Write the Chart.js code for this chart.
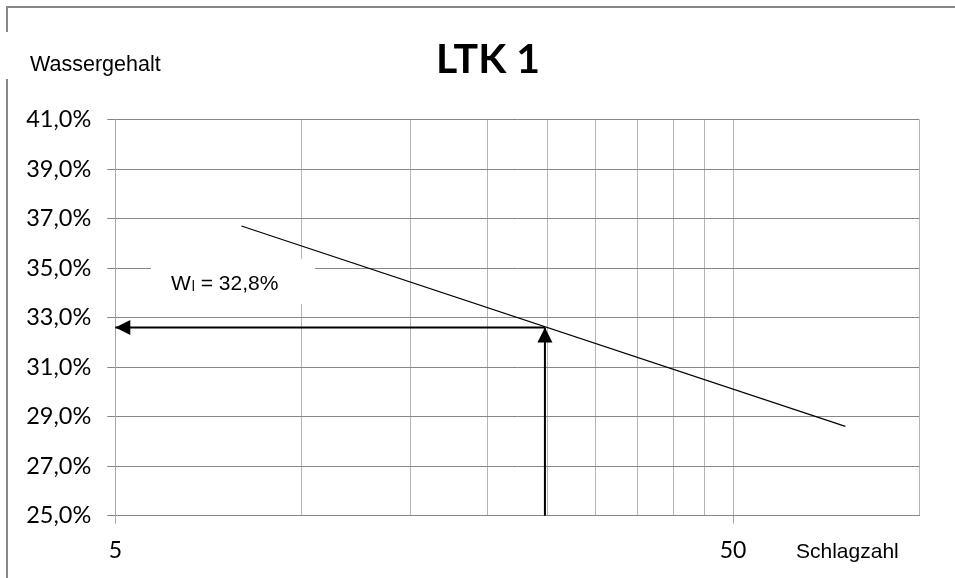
<!DOCTYPE html>
<html>
<head>
<meta charset="utf-8">
<script src="https://cdn.jsdelivr.net/npm/chart.js@4/dist/chart.umd.min.js"></script>
<style>
  html, body { margin: 0; padding: 0; background: #fff; }
  #wrap { width: 955px; height: 578px; position: relative; }
</style>
</head>
<body>
<div id="wrap"><canvas id="c" width="955" height="578"></canvas></div>
<script>
// ---- data ----
const chartTitle = 'LTK 1';
const yAxisName = 'Wassergehalt';
const xAxisName = 'Schlagzahl';
const trendX = [8, 76];              // Schlagzahl
const trendY = [36.70, 28.61];       // Wassergehalt %
const arrowHX = [24.8, 5];           // horizontal arrow: from reading point to y-axis
const arrowHY = [32.6, 32.6];
const arrowVX = [24.8, 24.8];        // vertical arrow: from x-axis up to the line
const arrowVY = [25, 32.6];
const xTickValues = [5, 10, 15, 20, 25, 30, 35, 40, 45, 50, 100];
const xLabelValues = [5, 50];
const yMin = 25, yMax = 41, yStep = 2;
const wlLabel = ['W', 'l', ' = 32,8%'];

const toXY = (xs, ys) => xs.map((x, i) => ({ x: x, y: ys[i] }));

const framePlugin = {
  id: 'frame',
  beforeDraw(chart) {
    const ctx = chart.ctx;
    ctx.save();
    ctx.fillStyle = '#fff';
    ctx.fillRect(0, 0, chart.width, chart.height);
    ctx.strokeStyle = '#878787';
    ctx.lineWidth = 2;
    ctx.beginPath();
    ctx.moveTo(7, 578); ctx.lineTo(7, 79);
    ctx.moveTo(7, 32); ctx.lineTo(7, 7); ctx.lineTo(955, 7);
    ctx.stroke();
    ctx.restore();
  },
  beforeDatasetsDraw(chart) {
    // white label box hiding gridlines behind the W_l annotation
    const ctx = chart.ctx;
    ctx.save();
    ctx.fillStyle = '#fff';
    ctx.fillRect(151, 259, 164, 45);
    ctx.restore();
  },
  afterDatasetsDraw(chart) {
    const ctx = chart.ctx;
    const xs = chart.scales.x, ys = chart.scales.y;
    const heads = [[arrowHX, arrowHY], [arrowVX, arrowVY]];
    ctx.save();
    ctx.fillStyle = '#000';
    heads.forEach(([ax, ay]) => {
      const n = ax.length;
      const tx = xs.getPixelForValue(ax[n - 1]), ty = ys.getPixelForValue(ay[n - 1]);
      const px = xs.getPixelForValue(ax[n - 2]), py = ys.getPixelForValue(ay[n - 2]);
      const d = Math.hypot(tx - px, ty - py);
      const ux = (tx - px) / d, uy = (ty - py) / d;
      const L = 15, W = 7.5;
      const bx = tx - ux * L, by = ty - uy * L;
      ctx.beginPath();
      ctx.moveTo(tx, ty);
      ctx.lineTo(bx - uy * W, by + ux * W);
      ctx.lineTo(bx + uy * W, by - ux * W);
      ctx.closePath();
      ctx.fill();
    });
    ctx.restore();
  },
  afterDraw(chart) {
    const ctx = chart.ctx;
    ctx.save();
    ctx.fillStyle = '#000';
    ctx.textBaseline = 'alphabetic';
    // title
    ctx.font = 'bold 41px Lato, "Open Sans", sans-serif';
    ctx.textAlign = 'center';
    ctx.fillText(chartTitle, 488, 73);
    // axis names
    ctx.textAlign = 'left';
    ctx.font = '21.5px "Liberation Sans", Arial, sans-serif';
    ctx.fillText(yAxisName, 30, 71);
    ctx.font = '21px "Liberation Sans", Arial, sans-serif';
    ctx.fillText(xAxisName, 796, 558);
    // W_l annotation
    let x = 171;
    ctx.fillText(wlLabel[0], x, 290);
    x += ctx.measureText(wlLabel[0]).width;
    ctx.font = '14px "Liberation Sans", Arial, sans-serif';
    ctx.fillText(wlLabel[1], x + 1, 291);
    x += ctx.measureText(wlLabel[1]).width + 1;
    ctx.font = '21px "Liberation Sans", Arial, sans-serif';
    ctx.fillText(wlLabel[2], x, 290);
    ctx.restore();
  }
};

new Chart(document.getElementById('c'), {
  type: 'line',
  data: {
    datasets: [
      { data: toXY(trendX, trendY), borderColor: '#000', borderWidth: 1.2, pointRadius: 0, fill: false, tension: 0 },
      { data: toXY(arrowHX, arrowHY), borderColor: '#000', borderWidth: 2, pointRadius: 0, fill: false, clip: false },
      { data: toXY(arrowVX, arrowVY), borderColor: '#000', borderWidth: 2, pointRadius: 0, fill: false, clip: false }
    ]
  },
  options: {
    responsive: false,
    animation: false,
    events: [],
    layout: { padding: { top: 119.5, right: 36, left: 0, bottom: 0 } },
    plugins: { legend: { display: false }, title: { display: false }, tooltip: { enabled: false } },
    scales: {
      x: {
        type: 'logarithmic',
        min: 5, max: 100,
        afterBuildTicks(scale) { scale.ticks = xTickValues.map(v => ({ value: v })); },
        afterFit(scale) { scale.height = 62.3; },
        ticks: {
          autoSkip: false, maxRotation: 0, minRotation: 0,
          color: '#000', padding: 13,
          font: { family: 'Lato, "Open Sans", sans-serif', size: 23 },
          callback: (v) => xLabelValues.includes(v) ? String(v) : ''
        },
        grid: {
          color: '#b4b4b4', lineWidth: 1, tickLength: 8,
          tickColor: (ctx) => (ctx.tick && xLabelValues.includes(ctx.tick.value)) ? '#a6a6a6' : 'rgba(0,0,0,0)'
        },
        border: { color: '#868686', width: 1 }
      },
      y: {
        type: 'linear',
        min: yMin, max: yMax,
        afterFit(scale) { scale.width = 115.3; },
        ticks: {
          stepSize: yStep, color: '#000', padding: 16,
          font: { family: 'Lato, "Open Sans", sans-serif', size: 23.5 },
          callback: (v) => v.toFixed(1).replace('.', ',') + '%'
        },
        grid: { color: '#868686', lineWidth: 1, tickLength: 8 },
        border: { color: '#a6a6a6', width: 1 }
      }
    }
  },
  plugins: [framePlugin]
});
</script>
</body>
</html>
